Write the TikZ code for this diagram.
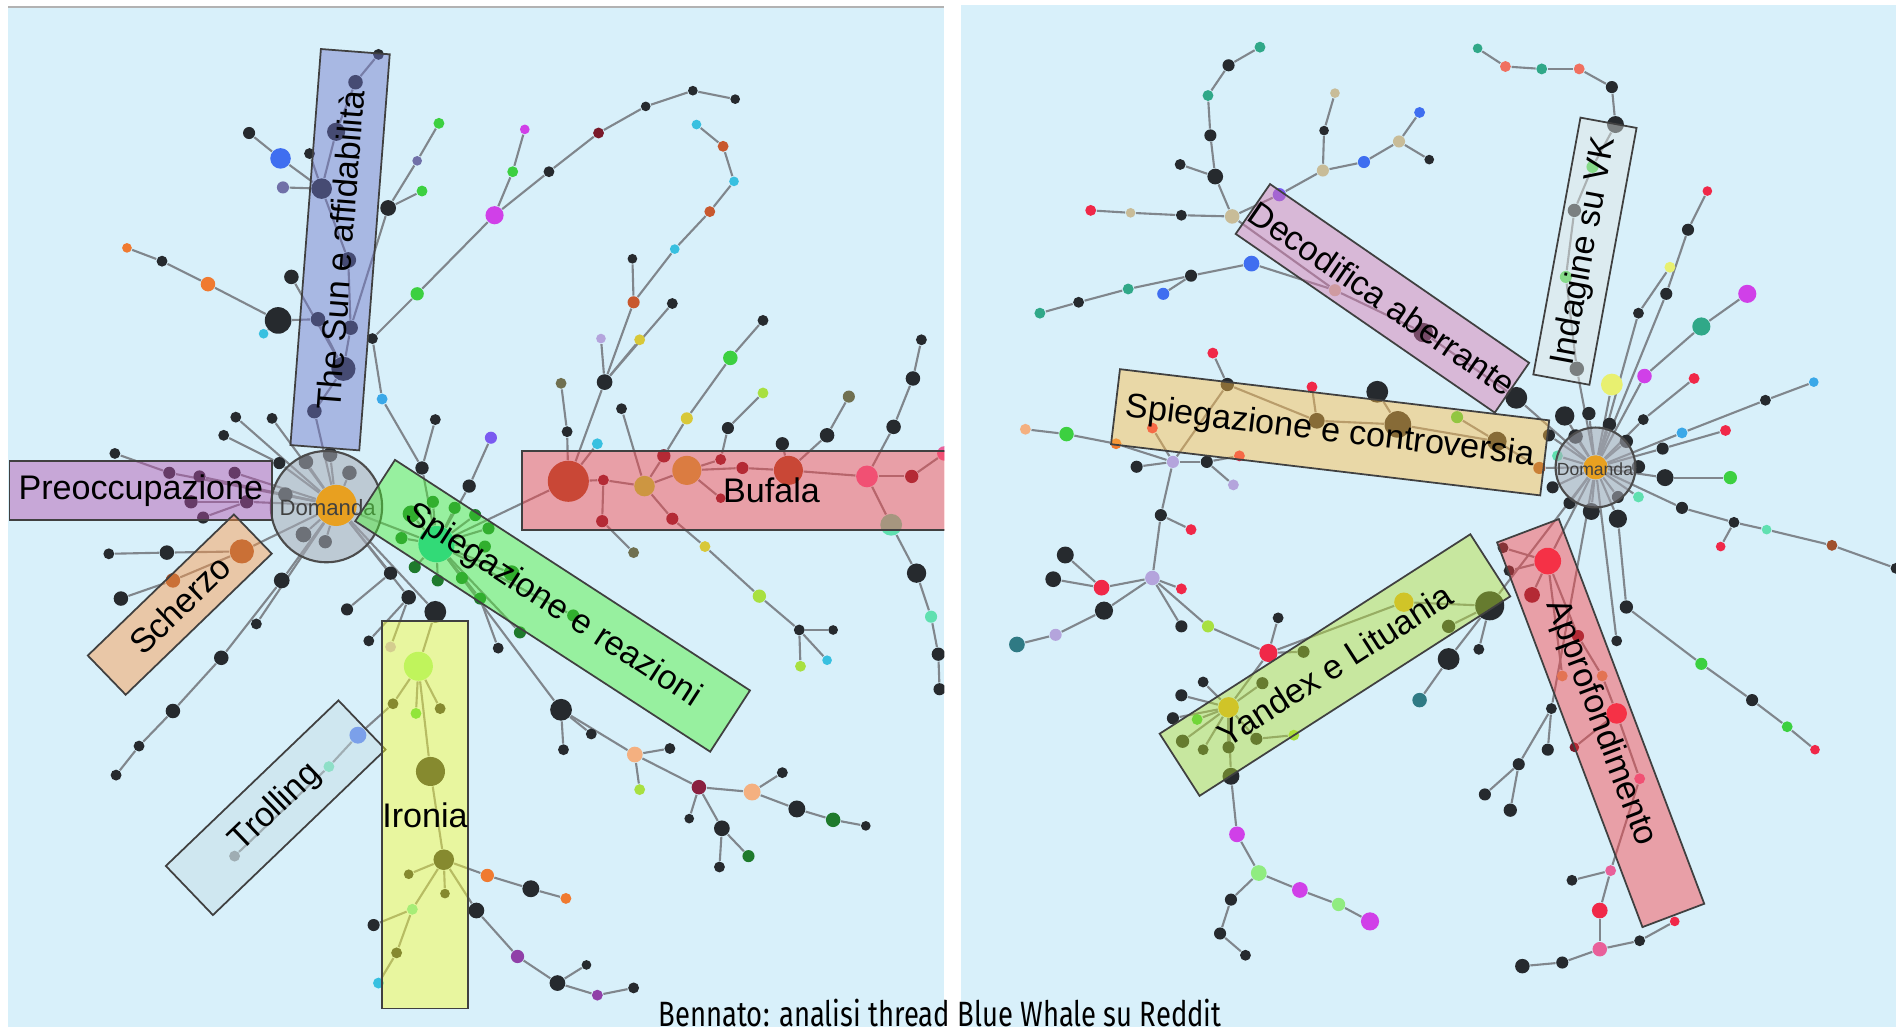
\documentclass[tikz,border=0pt]{standalone}
\usepackage{fontspec}
\setmainfont{Liberation Sans}
\newfontfamily\capfont{Fira Sans}
\usetikzlibrary{backgrounds}

\pgfdeclarelayer{bg}
\pgfdeclarelayer{edges}
\pgfsetlayers{bg,edges,main}

\definecolor{bgblue}{HTML}{D8F0FA}
\definecolor{dk}{HTML}{262A2E}
\definecolor{bu}{HTML}{3F6EF0}
\definecolor{sky}{HTML}{3AA8E8}
\definecolor{lv}{HTML}{B4A4DC}
\definecolor{cy}{HTML}{38C0E0}
\definecolor{og}{HTML}{F07A30}
\definecolor{gr}{HTML}{3CD040}
\definecolor{mg}{HTML}{D040E8}
\definecolor{sl}{HTML}{7070A8}
\definecolor{dr}{HTML}{7A1A2A}
\definecolor{ye}{HTML}{D8C838}
\definecolor{lm}{HTML}{A8E040}
\definecolor{pk}{HTML}{E8609A}
\definecolor{pe}{HTML}{F4B080}
\definecolor{mr}{HTML}{8A2040}
\definecolor{dg}{HTML}{1E7A2C}
\definecolor{mt}{HTML}{60E0B0}
\definecolor{lgn}{HTML}{90EC80}
\definecolor{tn}{HTML}{C8BC98}
\definecolor{tl}{HTML}{30A888}
\definecolor{te}{HTML}{2F7A84}
\definecolor{rd}{HTML}{F02848}
\definecolor{bw}{HTML}{A0502C}
\definecolor{sa}{HTML}{F07060}
\definecolor{vi}{HTML}{7A5AF0}
\definecolor{pu}{HTML}{9040A8}
\definecolor{ocr}{HTML}{C8582E}
\definecolor{ogy}{HTML}{707050}
\definecolor{oly}{HTML}{C0B040}
\definecolor{yl}{HTML}{E8B020}
\definecolor{pyl}{HTML}{E8F070}
\definecolor{amb}{HTML}{E8A020}
\definecolor{tq}{HTML}{20C8B0}
\definecolor{bn}{HTML}{D0A060}
\definecolor{gy}{HTML}{80868C}
\definecolor{boxpur}{HTML}{B450AE}
\definecolor{boxsun}{HTML}{6E74C9}
\definecolor{boxsch}{HTML}{FF9744}
\definecolor{boxtro}{HTML}{C6DEE4}
\definecolor{boxiro}{HTML}{FCFF32}
\definecolor{boxspr}{HTML}{4AF032}
\definecolor{boxbuf}{HTML}{FC3E44}
\definecolor{boxdec}{HTML}{D874AE}
\definecolor{boxvk}{HTML}{E1E7E4}
\definecolor{boxspc}{HTML}{FFBB44}
\definecolor{boxyan}{HTML}{B4DE32}
\definecolor{domgray}{HTML}{A8ACB6}

\newcommand{\tagfnt}{\fontsize{9.7}{11}\selectfont}

\begin{document}
\begin{tikzpicture}[x=0.012092cm, y=-0.012092cm,
    dot/.style={circle, inner sep=0pt, draw=none},
    edge/.style={draw=gy, line width=0.6pt},
    tagbox/.style={draw=black!75, line width=0.5pt, fill opacity=0.45, text opacity=1, inner sep=0pt, font=\tagfnt},
    domring/.style={circle, draw=black!70, line width=0.6pt, fill=domgray, fill opacity=0.55, inner sep=0pt}]
  \useasboundingbox (0,0) rectangle (1568,849);

  % panels
  \begin{pgfonlayer}{bg}
    \fill[white] (0,0) rectangle (1568,849);
    \fill[bgblue] (7,6) rectangle (781,849);
    \fill[bgblue] (795,4) rectangle (1568,849);
    \draw[black!30, line width=0.6pt] (7,6) -- (781,6);
  \end{pgfonlayer}

  % left thread
  \begin{scope}
    \clip (7,6) rectangle (781,849);
    \foreach \nm/\px/\py/\cl/\sz in {
      c1/253/382/dk/12,c2/273/376/dk/12,c3/289/391/dk/12,c4/236/409/dk/12,c5/251/442/dk/13,c6/269/448/dk/11,
      p1/140/391/dk/10,p2/95/375/dk/9,p3/165/394/dk/10,p4/194/391/dk/10,p5/204/415/dk/11,p6/158/415/dk/11,p7/168/428/dk/10,
      u1/195/345/dk/9,u2/225/346/dk/9,u3/185/360/dk/9,u4/231/383/dk/10,
      t1/260/340/dk/12,t2/284/305/dk/20,t3/290/271/dk/12,t4/263/264/dk/12,t5/288/215/dk/13,t6/266/156/dk/17,
      t7/278/109/dk/15,t8/294/68/dk/12,t9/313/45/dk/9,t10/232/131/bu/17,t11/206/110/dk/10,t12/234/155/sl/10,
      t13/256/127/dk/9,t14/230/265/dk/22,t15/218/276/cy/8,t16/172/235/og/12,t17/134/216/dk/9,t18/105/205/og/8,
      t19/241/229/dk/12,t20/321/172/dk/13,t21/349/158/gr/9,t22/345/133/sl/8,t23/363/102/gr/9,t24/316/330/sky/9,
      m1/308/280/dk/9,m2/345/243/gr/11,m3/409/178/mg/15,m4/424/142/gr/9,m5/434/107/mg/8,m6/454/142/dk/9,
      m7/495/110/dr/9,m8/534/88/dk/8,m9/573/75/dk/8,m10/608/82/dk/8,m11/349/387/dk/11,m12/360/347/dk/9,
      m13/406/362/vi/10,m14/388/402/dk/11,
      b0/470/398/bw/34,b1/469/357/dk/9,b2/464/317/ogy/9,b3/494/367/cy/9,b4/500/316/dk/13,b5/497/280/lv/8,
      b6/529/281/ye/9,b7/524/250/ocr/10,b8/523/214/dk/8,b9/556/251/dk/9,b10/558/206/cy/8,b11/587/175/ocr/9,
      b12/607/150/cy/8,b13/598/121/ocr/9,b14/576/103/cy/8,b15/499/397/dr/9,b16/533/402/lm/17,b17/514/338/dk/9,
      b18/549/377/dr/11,b19/568/389/oly/24,b20/568/346/ye/10,b21/604/296/gr/12,b22/631/265/dk/9,b23/596/380/dr/9,
      b24/602/354/dk/10,b25/631/325/lm/9,b26/614/387/dr/10,b27/652/389/bw/24,b28/684/360/dk/12,b29/702/328/ogy/10,
      b30/647/367/dk/11,b31/717/394/pk/18,b32/739/353/dk/12,b33/755/313/dk/12,b34/762/281/dk/9,b35/754/394/dr/11,
      b36/781/375/pk/12,b37/498/431/dr/10,b38/524/457/ogy/9,b39/556/429/dr/10,b40/583/452/ye/9,b41/628/493/lm/11,
      b42/661/521/dk/9,b43/689/521/dk/8,b44/662/551/lm/9,b45/684/546/cy/8,b46/737/434/mt/18,b47/758/474/dk/16,
      b48/770/510/mt/10,b49/776/541/dk/11,b50/777/570/dk/10,b51/596/412/dr/8,
      s0/361/450/tq/30,s1/412/536/dk/9,
      g1/358/415/dg/10,g2/376/420/dg/10,g3/393/426/dg/10,g4/404/437/dg/10,g5/401/452/dg/10,g6/423/474/dg/13,
      g7/397/495/dg/10,g8/382/478/dg/10,g9/362/480/dg/10,g10/343/469/dg/10,g11/332/445/dg/10,g12/340/425/dg/14,
      g13/430/523/dg/10,g14/474/509/dg/10,
      z1/200/456/bw/20,z2/138/457/dk/12,z3/90/458/dk/9,z4/143/480/bw/12,z5/100/495/dk/12,
      l1/233/480/dk/13,l2/183/544/dk/12,l3/143/588/dk/12,l4/115/617/dk/9,l5/96/641/dk/9,l6/212/516/dk/9,
      r1/296/608/bu/14,r2/272/634/mt/9,r3/194/708/gy/9,
      d1/323/474/dk/11,d2/287/504/dk/10,d3/338/494/dk/12,d4/305/530/dk/9,d5/323/535/lv/9,d6/360/506/dk/18,
      i1/346/551/lgn/24,i2/325/582/dk/9,i3/344/590/gr/9,i4/364/586/dk/9,i5/356/638/dk/24,i6/367/711/dk/17,
      i7/338/723/dk/8,i8/368/739/dk/8,i9/341/752/mt/9,i10/328/788/dk/9,i11/313/813/cy/9,i12/309/765/dk/10,
      i13/403/724/og/11,i14/439/735/dk/14,i15/468/743/og/9,i16/394/753/dk/13,i17/428/791/pu/11,i18/461/813/dk/13,
      i19/485/798/dk/8,i20/494/823/pu/9,i21/524/817/dk/9,
      n1/464/587/dk/18,n2/466/620/dk/9,n3/489/607/dk/9,n4/525/624/pe/13,n5/554/619/dk/9,n6/529/653/lm/9,
      n7/578/651/mr/12,n8/622/655/pe/14,n9/647/639/dk/9,n10/659/669/dk/14,n11/689/678/dg/12,n12/716/683/dk/8,
      n13/570/677/dk/8,n14/597/685/dk/13,n15/619/708/dg/10,n16/595/717/dk/9}
      \node[dot, fill=\cl, minimum size=\sz*0.12092mm] (\nm) at (\px,\py) {};
    \node[domring, minimum size=92*0.12092mm] (ldom) at (270,419) {};
    \node[dot, fill=amb, minimum size=34*0.12092mm] (lc) at (278,418) {};
    \node[font=\fontsize{6.3}{7}\selectfont, text=black!75] (ldomtxt) at (271,420) {Domanda};
    \node[tagbox, fill=boxpur, minimum width=2.624cm, minimum height=0.593cm] (preocc) at (116.5,405.5) {Preoccupazione};
    \node[tagbox, fill=boxsun, rotate=85.6, minimum width=3.97cm, minimum height=0.69cm] (thesun) at (281.25,206.5) {The Sun e affidabilità};
    \node[tagbox, fill=boxsch, rotate=44, minimum width=2.03cm, minimum height=0.545cm] (scherzo) at (148.7,500) {Scherzo};
    \node[tagbox, fill=boxtro, rotate=43.8, minimum width=2.39cm, minimum height=0.68cm] (trolling) at (228,668) {Trolling};
    \node[tagbox, fill=boxiro, minimum width=0.81cm, minimum height=3.87cm] (ironia) at (351.5,674) {Ironia};
    \node[tagbox, fill=boxspr, rotate=-33, minimum width=4.23cm, minimum height=0.73cm] (spiegrea) at (457,501) {Spiegazione e reazioni};
    \node[tagbox, fill=boxbuf, minimum width=4.98cm, minimum height=0.786cm] (bufala) at (638,405.5) {Bufala};
  \end{scope}

  % right thread
  \begin{scope}
    \clip (795,4) rectangle (1568,849);
    \foreach \nm/\px/\py/\cl/\sz in {
      q1/1294/344/dk/16,q2/1314/342/dk/11,q3/1331/351/dk/11,q4/1345/365/dk/11,q5/1355/386/dk/11,q6/1338/411/dk/10,
      q7/1316/423/dk/14,q8/1338/429/dk/15,q9/1298/416/dk/10,q10/1284/403/dk/10,q11/1303/361/dk/12,q12/1281/360/dk/10,
      q13/1288/377/mt/9,q14/1273/387/bw/10,
      h1/1238/365/dk/16,h2/1156/351/dk/22,h3/1089/348/dk/13,h4/1015/318/dk/11,h5/1003/292/rd/9,h6/1205/345/gr/10,
      h7/1139/324/dk/18,h8/1085/320/rd/9,
      x0/970/382/lv/10,x1/940/386/dk/10,x2/953/354/rd/9,x3/923/367/og/9,x4/882/359/gr/12,x5/848/355/pe/9,
      x6/998/382/dk/10,x7/1025/377/rd/9,x8/1020/401/lv/9,
      w0/953/478/lv/12,w1/960/426/dk/10,w2/985/438/rd/9,w3/977/487/rd/9,w4/911/486/rd/13,w5/881/459/dk/14,
      w6/871/479/dk/13,w7/913/505/dk/15,w8/873/525/lv/10,w9/841/533/te/13,w10/977/518/dk/10,w11/999/518/lm/10,
      y0/1232/501/dk/24,y1/1161/498/yl/16,y2/1198/518/dk/11,y3/1223/537/dk/9,y4/1198/545/dk/18,y5/1174/579/te/12,
      y6/1016/585/yl/17,y7/995/564/dk/9,y8/977/575/dk/10,y9/990/595/gr/9,y10/970/594/dk/10,y11/978/613/dk/11,
      y12/995/620/dk/9,y13/1016/618/dk/10,y14/1039/611/dk/10,y15/1070/608/lm/9,y16/1044/565/dk/10,y17/1049/540/rd/15,
      y18/1057/511/dk/9,y19/1078/539/dk/10,y20/1018/642/dk/14,y21/1023/690/mg/13,y22/1041/722/lgn/13,y23/1075/736/mg/13,
      y24/1107/748/lgn/11,y25/1133/762/mg/15,y26/1018/744/dk/10,y27/1009/772/dk/10,y28/1030/790/dk/9,
      e1/1254/329/dk/18,e2/1177/275/dk/16,e3/1104/240/tn/10,e4/1019/179/tn/12,e5/1035/218/bu/13,e6/985/228/dk/10,
      e7/962/243/bu/10,e8/933/239/tl/9,e9/892/250/dk/9,e10/860/259/tl/9,e11/1005/146/dk/13,e12/976/136/dk/9,
      e13/1001/112/dk/10,e14/999/79/tl/9,e15/1016/54/dk/10,e16/1042/39/tl/9,e17/977/178/dk/9,e18/935/176/tn/8,
      e19/902/174/rd/9,e20/1058/161/vi/11,e21/1094/141/tn/10,e22/1095/108/dk/8,e23/1104/77/tn/8,e24/1128/134/bu/10,
      e25/1157/117/tn/10,e26/1174/93/bu/9,e27/1182/132/dk/8,
      k1/1304/305/dk/12,k2/1295/229/gr/10,k3/1302/174/dk/11,k4/1317/138/gr/10,k5/1336/103/dk/14,k6/1333/72/dk/10,
      k7/1306/57/sa/9,k8/1275/57/tl/9,k9/1245/55/sa/9,k10/1222/40/tl/8,
      f1/1378/243/dk/10,f2/1396/190/dk/10,f3/1412/158/rd/8,f4/1355/259/dk/9,f5/1381/221/pyl/9,f6/1333/318/pyl/18,
      f7/1360/311/mg/12,f8/1407/270/tl/15,f9/1445/243/mg/15,f10/1359/347/dk/9,f11/1401/313/rd/9,f12/1391/358/sky/9,
      f13/1460/331/dk/9,f14/1500/316/sky/8,f15/1375/371/dk/10,f16/1427/356/rd/9,f17/1377/395/dk/14,f18/1431/395/gr/11,
      f19/1355/411/mt/9,f20/1391/420/dk/10,f21/1434/432/dk/9,f22/1461/438/mt/8,f23/1515/451/bw/9,f24/1568/470/dk/9,
      f25/1423/452/rd/8,f26/1345/502/dk/11,f27/1407/549/gr/10,f28/1449/579/dk/10,f29/1478/601/gr/9,f30/1501/620/rd/8,
      f31/1337/530/dk/9,
      a0/1280/464/rd/22,a1/1243/453/dk/9,a2/1248/472/dk/9,a3/1267/492/dr/13,a4/1305/526/dr/10,a5/1292/559/bn/9,
      a6/1325/559/bn/9,a7/1337/590/rd/17,a8/1302/618/dr/8,a9/1356/644/pk/9,a10/1332/720/pk/9,a11/1300/728/dk/9,
      a12/1323/753/rd/13,a13/1323/785/pk/12,a14/1356/778/dk/9,a15/1385/762/rd/8,a16/1292/796/dk/10,a17/1259/799/dk/12,
      a18/1283/586/dk/9,a19/1280/620/dk/10,a20/1256/632/dk/10,a21/1228/657/dk/10,a22/1249/670/dk/11}
      \node[dot, fill=\cl, minimum size=\sz*0.12092mm] (\nm) at (\px,\py) {};
    \node[domring, minimum size=66*0.12092mm] (rdom) at (1319.5,386.6) {};
    \node[dot, fill=amb, minimum size=20*0.12092mm] (rc) at (1319.5,386.5) {};
    \node[font=\fontsize{5}{6}\selectfont, text=black!75] (rdomtxt) at (1319,388) {Domanda};
    \node[tagbox, fill=boxdec, rotate=-34.6, minimum width=3.13cm, minimum height=0.605cm] (decod) at (1143.25,246.75) {Decodifica aberrante};
    \node[tagbox, fill=boxvk, rotate=79.6, minimum width=2.61cm, minimum height=0.57cm] (indvk) at (1310.75,207.75) {Indagine su VK};
    \node[tagbox, fill=boxspc, rotate=-6.8, minimum width=4.32cm, minimum height=0.755cm] (spiegcon) at (1100,357.5) {Spiegazione e controversia};
    \node[tagbox, fill=boxyan, rotate=32.7, minimum width=3.69cm, minimum height=0.738cm] (yandex) at (1104,550) {Yandex e Lituania};
    \node[tagbox, fill=boxbuf, rotate=-69.3, minimum width=4.11cm, minimum height=0.66cm] (approf) at (1323.75,598) {Approfondimento};
  \end{scope}

  % connectors
  \begin{pgfonlayer}{edges}
    \begin{scope}
      \clip (7,6) rectangle (781,849);
      \foreach \a/\b in {lc/c1,lc/c2,lc/c3,lc/c4,lc/c5,lc/c6,
        lc/p1,p1/p2,lc/p3,lc/p4,lc/p5,p5/p6,p5/p7,lc/u1,lc/u2,lc/u4,u4/u3,
        lc/t1,t1/t2,t2/t3,t3/t20,t20/t21,t20/t22,t22/t23,t2/t4,t4/t14,t14/t16,t16/t17,t17/t18,t14/t15,t2/t19,
        t3/t5,t5/t6,t6/t10,t10/t11,t6/t12,t6/t13,t6/t7,t7/t8,t8/t9,
        lc/s0,s0/m11,m11/t24,t24/m1,m1/m2,m2/m3,m3/m4,m4/m5,m3/m6,m6/m7,m7/m8,m8/m9,m9/m10,m11/m12,s0/m14,m14/m13,
        s0/g1,s0/g2,s0/g3,s0/g4,s0/g5,s0/g6,s0/g7,s0/g8,s0/g9,s0/g10,s0/g11,s0/g12,s0/g13,s0/g14,g7/s1,
        s0/b0,b0/b1,b1/b2,b0/b3,b0/b4,b4/b5,b4/b6,b4/b7,b7/b8,b4/b9,b7/b10,b10/b11,b11/b12,b12/b13,b13/b14,
        b0/b15,b15/b16,b16/b17,b16/b18,b18/b20,b20/b21,b21/b22,b16/b19,b19/b23,b23/b24,b24/b25,b19/b26,b26/b27,
        b27/b30,b27/b28,b28/b29,b27/b31,b31/b32,b32/b33,b33/b34,b31/b35,b35/b36,b31/b46,b46/b47,b47/b48,b48/b49,
        b49/b50,b15/b37,b37/b38,b16/b39,b39/b40,b40/b41,b41/b42,b42/b43,b42/b44,b42/b45,b19/b51,
        lc/z1,z1/z2,z2/z3,z1/z4,z4/z5,lc/l1,l1/l2,l2/l3,l3/l4,l4/l5,lc/l6,
        lc/d1,d1/d2,lc/d3,d3/d4,d3/d5,lc/d6,d6/i1,i1/i2,i2/r1,r1/r2,r2/r3,i1/i3,i1/i4,i1/i5,i5/i6,i6/i7,i6/i8,
        i6/i9,i9/i10,i10/i11,i9/i12,i6/i13,i13/i14,i14/i15,i6/i16,i16/i17,i17/i18,i18/i19,i18/i20,i20/i21,
        s0/n1,n1/n2,n1/n3,n1/n4,n4/n5,n4/n6,n4/n7,n7/n8,n8/n9,n8/n10,n10/n11,n11/n12,n7/n13,n7/n14,n14/n15,n14/n16}
        \draw[edge] (\a) -- (\b);
    \end{scope}
    \begin{scope}
      \clip (795,4) rectangle (1568,849);
      \foreach \a/\b in {rc/q1,rc/q2,rc/q3,rc/q4,rc/q5,rc/q6,rc/q7,rc/q8,rc/q9,rc/q10,rc/q11,rc/q12,rc/q13,rc/q14,
        q14/h1,h1/h2,h2/h3,h3/h4,h4/h5,h1/h6,h2/h7,h3/h8,h4/x0,x0/x1,x0/x2,x0/x3,x3/x4,x4/x5,x0/x6,x6/x8,x6/x7,
        x0/w1,w1/w2,w1/w0,w0/w3,w0/w4,w4/w5,w4/w6,w0/w7,w7/w8,w8/w9,w0/w10,w0/w11,w11/y17,
        y17/y18,y17/y19,y1/y17,y17/y6,y0/y1,rc/y0,y0/y2,y0/y3,y0/y4,y4/y5,
        y6/y7,y6/y8,y6/y9,y6/y10,y6/y11,y6/y12,y6/y13,y6/y14,y6/y16,y14/y15,
        y6/y20,y20/y21,y21/y22,y22/y23,y23/y24,y24/y25,y22/y26,y26/y27,y27/y28,
        rc/e1,e1/e2,e2/e3,e3/e4,e3/e5,e5/e6,e6/e8,e8/e9,e9/e10,e6/e7,e4/e11,e11/e12,e11/e13,e13/e14,e14/e15,
        e15/e16,e4/e17,e17/e18,e18/e19,e4/e20,e20/e21,e21/e22,e22/e23,e21/e24,e24/e25,e25/e26,e25/e27,
        rc/k1,k1/k2,k2/k3,k3/k4,k4/k5,k5/k6,k6/k7,k7/k8,k8/k9,k9/k10,
        rc/f1,f1/f2,f2/f3,rc/f4,f4/f5,rc/f6,rc/f7,f7/f8,f8/f9,rc/f10,f10/f11,rc/f12,f12/f13,f13/f14,
        rc/f15,f15/f16,rc/f17,f17/f18,rc/f19,rc/f20,f20/f21,f21/f22,f22/f23,f23/f24,f21/f25,
        q8/f26,f26/f27,f27/f28,f28/f29,f29/f30,rc/f31,
        rc/a0,a0/a1,a0/a2,a0/a3,a0/a4,a4/a6,a6/a7,a7/a9,a9/a10,a10/a11,a0/a5,a7/a8,a10/a12,a12/a13,a13/a14,
        a14/a15,a13/a16,a16/a17,rc/a18,a18/a19,a18/a20,a20/a21,a20/a22}
        \draw[edge] (\a) -- (\b);
    \end{scope}
  \end{pgfonlayer}

  % caption
  \node[anchor=base, text=black, inner sep=0pt] (caption) at (777.5,849)
    {\capfont\fontsize{10}{12}\selectfont\scalebox{0.78}[1]{Bennato: analisi thread Blue Whale su Reddit}};
\end{tikzpicture}
\end{document}
